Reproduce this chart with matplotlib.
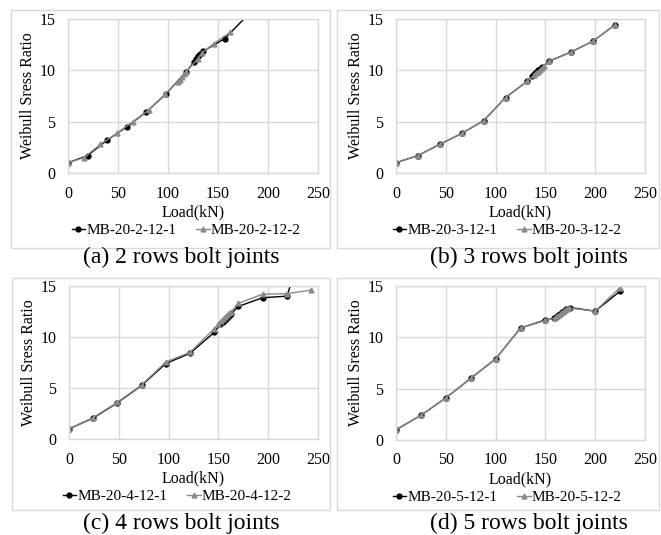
import matplotlib
matplotlib.use("Agg")
import matplotlib.pyplot as plt
from matplotlib.patches import Rectangle
from matplotlib.lines import Line2D

plt.rcParams['font.family'] = ['Liberation Serif', 'DejaVu Serif']

# ---------------- data ----------------
x_ticks = [0, 50, 100, 150, 200, 250]
y_ticks = [0, 5, 10, 15]

a1_x = [0, 19.6, 39.2, 58.8, 78.4, 98, 117.6, 126, 128, 130, 132, 135, 156.8, 196]
a1_y = [1.0, 1.7, 3.2, 4.5, 5.95, 7.7, 9.8, 10.8, 11.1, 11.35, 11.6, 11.85, 13.1, 17.0]
a2_x = [0, 16.2, 32.4, 48.6, 64.8, 81, 97.2, 110, 112, 114, 116, 118, 129.6, 134, 145.8, 162]
a2_y = [1.0, 1.5, 2.8, 3.85, 5.0, 6.15, 7.7, 8.9, 9.1, 9.35, 9.6, 9.85, 11.1, 11.7, 12.6, 13.7]

b1_x = [0, 22, 44, 66, 88, 110, 132, 137, 139, 141, 143, 145, 147, 154, 176, 198, 220]
b1_y = [1.0, 1.7, 2.8, 3.85, 5.1, 7.35, 8.95, 9.4, 9.6, 9.8, 10.0, 10.15, 10.3, 10.9, 11.8, 12.85, 14.45]
b2_x = [0, 22, 44, 66, 88, 110, 132, 139, 141, 143, 145, 147, 149, 154, 176, 198, 220]
b2_y = [1.0, 1.7, 2.8, 3.85, 5.1, 7.35, 8.95, 9.55, 9.7, 9.85, 10.0, 10.2, 10.4, 10.9, 11.8, 12.85, 14.45]

c1_x = [0, 24.3, 48.6, 72.9, 97.2, 121.5, 145.8, 152, 155, 157, 159, 161, 163, 170.1, 194.4, 218.7, 243]
c1_y = [1.0, 2.05, 3.55, 5.25, 7.4, 8.4, 10.45, 11.25, 11.5, 11.7, 11.9, 12.1, 12.3, 13.0, 13.85, 14.0, 21.0]
c2_x = [0, 24.3, 48.6, 72.9, 97.2, 121.5, 145.8, 150, 153, 155, 157, 159, 161, 163, 170.1, 194.4, 218.7, 243]
c2_y = [1.0, 2.1, 3.6, 5.3, 7.55, 8.5, 10.8, 11.3, 11.6, 11.8, 12.0, 12.2, 12.35, 12.5, 13.3, 14.2, 14.25, 14.6]

d1_x = [0, 25, 50, 75, 100, 125, 150, 159, 161, 163, 165, 167, 169, 171, 175, 200, 225]
d1_y = [1.0, 2.4, 4.1, 6.0, 7.9, 10.9, 11.7, 11.85, 12.0, 12.15, 12.3, 12.45, 12.6, 12.75, 12.9, 12.55, 14.5]
d2_x = [0, 25, 50, 75, 100, 125, 150, 160, 162, 164, 166, 168, 170, 172, 174, 200, 225]
d2_y = [1.0, 2.4, 4.1, 6.0, 7.9, 10.9, 11.65, 11.9, 12.05, 12.2, 12.35, 12.5, 12.65, 12.8, 12.85, 12.55, 14.85]

labels = [("MB-20-2-12-1", "MB-20-2-12-2"), ("MB-20-3-12-1", "MB-20-3-12-2"),
          ("MB-20-4-12-1", "MB-20-4-12-2"), ("MB-20-5-12-1", "MB-20-5-12-2")]
captions = ["(a) 2 rows bolt joints", "(b) 3 rows bolt joints",
            "(c) 4 rows bolt joints", "(d) 5 rows bolt joints"]
series = [(a1_x, a1_y, a2_x, a2_y), (b1_x, b1_y, b2_x, b2_y),
          (c1_x, c1_y, c2_x, c2_y), (d1_x, d1_y, d2_x, d2_y)]

# ---------------- layout ----------------
W, H = 661, 535
fig = plt.figure(figsize=(W / 100, H / 100), dpi=100)

def fx(x):
    return x / W

def fy(y):
    return 1 - y / H

# axes (left, right, top, bottom), border (l, t, r, b), caption (x, y), legend centre x
panels = [
    dict(ax=(68, 318, 19, 173), border=(11, 10, 330, 248), cap=(181, 257), leg=186),
    dict(ax=(396, 645, 19, 173), border=(337, 10, 659, 248), cap=(529, 257), leg=507),
    dict(ax=(69, 318, 286, 439), border=(12, 278, 330, 510), cap=(181, 523), leg=177),
    dict(ax=(396, 645, 286, 440), border=(337, 278, 659, 510), cap=(529, 523), leg=507),
]

BLACK = '#000000'
GRAY = '#8a8a8a'
GRID = '#d9d9d9'

for p, (x1, y1, x2, y2), (lab1, lab2), cap in zip(panels, series, labels, captions):
    l, r, t, b = p['ax']
    bl, bt, br, bb = p['border']
    fig.patches.append(Rectangle((fx(bl), fy(bb)), fx(br) - fx(bl), fy(bt) - fy(bb),
                                 transform=fig.transFigure, fill=False,
                                 edgecolor=GRID, linewidth=1.0))
    ax = fig.add_axes([fx(l), fy(b), fx(r) - fx(l), fy(t) - fy(b)])
    ax.plot(x1, y1, color=BLACK, lw=1.0, marker='o', ms=3.5, mfc=BLACK, mec=BLACK)
    ax.plot(x2, y2, color=GRAY, lw=1.0, marker='^', ms=3.5, mfc=GRAY, mec=GRAY)
    ax.set_xlim(0, 250)
    ax.set_ylim(0, 15)
    ax.set_xticks(x_ticks)
    ax.set_yticks(y_ticks)
    ax.grid(True, color=GRID, lw=1.0)
    ax.set_axisbelow(True)
    for s in ax.spines.values():
        s.set_color(GRID)
        s.set_linewidth(1.0)
    ax.tick_params(length=0, labelsize=11.5, colors='black')
    ax.tick_params(axis='x', pad=9)
    ax.tick_params(axis='y', pad=9)
    cx = (l + r) / 2
    fig.text(fx(cx), fy(b + 39), "Load(kN)", ha='center', va='center', fontsize=11.5)
    fig.text(fx(l - 40), fy((t + b) / 2), "Weibull Sress Ratio", ha='center', va='center',
             rotation=90, fontsize=11.5)
    handles = [Line2D([], [], color=BLACK, lw=1.0, marker='o', ms=3.5),
               Line2D([], [], color=GRAY, lw=1.0, marker='^', ms=3.5)]
    fig.legend(handles, [lab1, lab2], loc='center', ncol=2,
               bbox_to_anchor=(fx(p['leg']), fy(b + 57)), frameon=False, fontsize=11,
               handlelength=0.9, handletextpad=0.05, columnspacing=1.3, borderpad=0)
    fig.text(fx(p['cap'][0]), fy(p['cap'][1]), cap, ha='center', va='center', fontsize=17)

fig.savefig("out.png", dpi=100)
